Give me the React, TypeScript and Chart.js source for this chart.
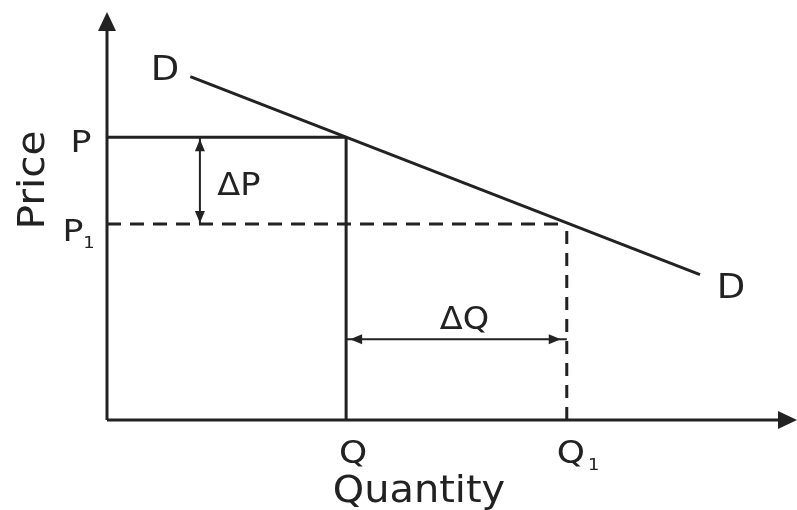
import React, { useEffect, useRef } from "react";
import { Chart, registerables } from "chart.js";

Chart.register(...registerables);

// Economic values (abstract units)
const axisMax = { x: 10.1, y: 10.1 };
const priceP = 7;
const priceP1 = 4.85;
const qtyQ = 3.5;
const qtyQ1 = 6.73;
const demandX = [1.22, 8.68];
const demandY = [8.5, 3.6];
const deltaPX = 1.36;
const deltaQY = 2.0;

const INK = "#222222";
const FONT = "'DejaVu Sans', Verdana, sans-serif";

function arrowHead(ctx: CanvasRenderingContext2D, tipX: number, tipY: number, dirX: number, dirY: number, len: number, half: number) {
  const bx = tipX - dirX * len;
  const by = tipY - dirY * len;
  const px = -dirY;
  const py = dirX;
  ctx.beginPath();
  ctx.moveTo(tipX, tipY);
  ctx.lineTo(bx + px * half, by + py * half);
  ctx.lineTo(bx - px * half, by - py * half);
  ctx.closePath();
  ctx.fill();
}

function text(ctx: CanvasRenderingContext2D, s: string, x: number, y: number, size: number, sx = 1.12) {
  ctx.save();
  ctx.translate(x, y);
  ctx.scale(sx, 1);
  ctx.font = `${size}px ${FONT}`;
  ctx.textAlign = "center";
  ctx.textBaseline = "alphabetic";
  ctx.fillText(s, 0, 0);
  ctx.restore();
}

const decorPlugin = {
  id: "decor",
  afterDatasetsDraw(chart: any) {
    const ctx: CanvasRenderingContext2D = chart.ctx;
    const xs = chart.scales.x;
    const ys = chart.scales.y;
    const X = (v: number) => xs.getPixelForValue(v);
    const Y = (v: number) => ys.getPixelForValue(v);
    ctx.save();
    ctx.fillStyle = INK;
    // axis arrowheads
    arrowHead(ctx, X(0), Y(axisMax.y), 0, -1, 19, 9);
    arrowHead(ctx, X(axisMax.x), Y(0), 1, 0, 19, 9);
    // ΔP arrowheads
    arrowHead(ctx, X(deltaPX), Y(priceP) + 2, 0, -1, 12, 5);
    arrowHead(ctx, X(deltaPX), Y(priceP1) - 1, 0, 1, 12, 5);
    // ΔQ arrowheads
    arrowHead(ctx, X(qtyQ) + 4, Y(deltaQY), -1, 0, 12, 5);
    arrowHead(ctx, X(qtyQ1) - 6, Y(deltaQY), 1, 0, 12, 5);

    // labels
    text(ctx, "D", 165, 80, 33);
    text(ctx, "D", 731, 298, 33);
    text(ctx, "P", X(0) - 26, Y(priceP) + 15, 31);
    text(ctx, "P", X(0) - 34, Y(priceP1) + 17, 31);
    text(ctx, "1", X(0) - 18, Y(priceP1) + 24, 16);
    text(ctx, "ΔP", X(deltaPX) + 39, Y(priceP) + 58, 32, 1.05);
    text(ctx, "ΔQ", (X(qtyQ) + X(qtyQ1)) / 2 + 8, Y(deltaQY) - 10, 32, 1.05);
    text(ctx, "Q", X(qtyQ) + 7, Y(0) + 43, 32);
    text(ctx, "Q", X(qtyQ1) + 4, Y(0) + 43, 32);
    text(ctx, "1", X(qtyQ1) + 27, Y(0) + 50, 16);
    text(ctx, "Quantity", 419, 502, 38, 1.05);
    ctx.save();
    ctx.translate(44, 180);
    ctx.rotate(-Math.PI / 2);
    ctx.scale(1.07, 1);
    ctx.font = `38px ${FONT}`;
    ctx.textAlign = "center";
    ctx.textBaseline = "alphabetic";
    ctx.fillText("Price", 0, 0);
    ctx.restore();
    ctx.restore();
  },
};

function seg(data: { x: number; y: number }[], width: number, dash: number[] = []) {
  return {
    data,
    showLine: true,
    borderColor: INK,
    borderWidth: width,
    borderDash: dash,
    pointRadius: 0,
    pointHoverRadius: 0,
    fill: false,
    clip: false as any,
    borderCapStyle: "butt",
  };
}

export default function App() {
  const ref = useRef<HTMLCanvasElement>(null);
  useEffect(() => {
    if (!ref.current) return;
    const chart = new Chart(ref.current, {
      type: "scatter",
      data: {
        datasets: [
          seg([{ x: 0, y: 0 }, { x: 0, y: axisMax.y - 0.3 }], 3),
          seg([{ x: 0, y: 0 }, { x: axisMax.x - 0.2, y: 0 }], 3),
          seg([{ x: demandX[0], y: demandY[0] }, { x: demandX[1], y: demandY[1] }], 3),
          seg([{ x: 0, y: priceP }, { x: qtyQ, y: priceP }], 3),
          seg([{ x: qtyQ, y: 0 }, { x: qtyQ, y: priceP }], 3),
          seg([{ x: 0, y: priceP1 }, { x: qtyQ1, y: priceP1 }], 3, [14, 9]),
          seg([{ x: qtyQ1, y: 0 }, { x: qtyQ1, y: priceP1 }], 3, [13, 9]),
          seg([{ x: deltaPX, y: priceP }, { x: deltaPX, y: priceP1 }], 2),
          seg([{ x: qtyQ, y: deltaQY }, { x: qtyQ1, y: deltaQY }], 2),
        ] as any,
      },
      options: {
        responsive: false,
        animation: false,
        events: [],
        layout: { padding: { left: 107, right: 0, top: 12, bottom: 90 } },
        scales: {
          x: { type: "linear", min: 0, max: axisMax.x, display: false },
          y: { type: "linear", min: 0, max: axisMax.y, display: false },
        },
        plugins: { legend: { display: false }, tooltip: { enabled: false } },
      },
      plugins: [decorPlugin],
    });
    return () => chart.destroy();
  }, []);
  return (
    <div style={{ position: "absolute", left: 0, top: 0, width: 797, height: 510, background: "#fff" }}>
      <canvas ref={ref} width={797} height={510} />
    </div>
  );
}
